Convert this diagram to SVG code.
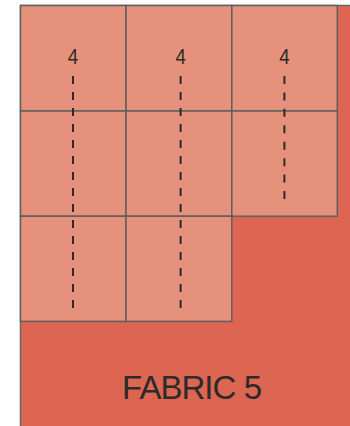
<svg xmlns="http://www.w3.org/2000/svg" width="350" height="426" viewBox="0 0 350 426">
<style>
.fab{fill:#DC6651;stroke:#666;stroke-width:1.5}
.cell{fill:#E6917B;stroke:#5f5f5f;stroke-width:1.5}
.num{font-family:"Liberation Sans",Arial,sans-serif;font-size:22px;fill:#2b2b2b;text-anchor:middle}
.dash{stroke:#2b2b2b;stroke-width:2;fill:none}
.label{font-family:"Liberation Sans",Arial,sans-serif;font-size:33px;fill:#2b2b2b;text-anchor:middle}
</style>
<rect width="350" height="426" fill="#fff"/>
<g id="fabric">
<rect class="fab" x="20.5" y="5.5" width="340" height="430"/>
<text class="label" x="192" y="399" textLength="140">FABRIC 5</text>
</g>
<g id="cells">
<rect class="cell" x="20.5" y="5.5" width="105.5" height="105.5"/>
<rect class="cell" x="126" y="5.5" width="105.8" height="105.5"/>
<rect class="cell" x="231.8" y="5.5" width="105.5" height="105.5"/>
<rect class="cell" x="20.5" y="111" width="105.5" height="105.2"/>
<rect class="cell" x="126" y="111" width="105.8" height="105.2"/>
<rect class="cell" x="231.8" y="111" width="105.5" height="105.2"/>
<rect class="cell" x="20.5" y="216.2" width="105.5" height="105.2"/>
<rect class="cell" x="126" y="216.2" width="105.8" height="105.2"/>
</g>
<g id="strips">
<text class="num" x="73" y="64" transform="translate(73 0) scale(0.85 1) translate(-73 0)">4</text>
<text class="num" x="180.6" y="64" transform="translate(180.6 0) scale(0.85 1) translate(-180.6 0)">4</text>
<text class="num" x="284.4" y="64" transform="translate(284.4 0) scale(0.85 1) translate(-284.4 0)">4</text>
<line class="dash" x1="73" y1="76" x2="73" y2="308" stroke-dasharray="8 8"/>
<line class="dash" x1="180.6" y1="76" x2="180.6" y2="308" stroke-dasharray="8 8"/>
<line class="dash" x1="284.4" y1="76" x2="284.4" y2="199" stroke-dasharray="8 8.43"/>
</g>
</svg>
